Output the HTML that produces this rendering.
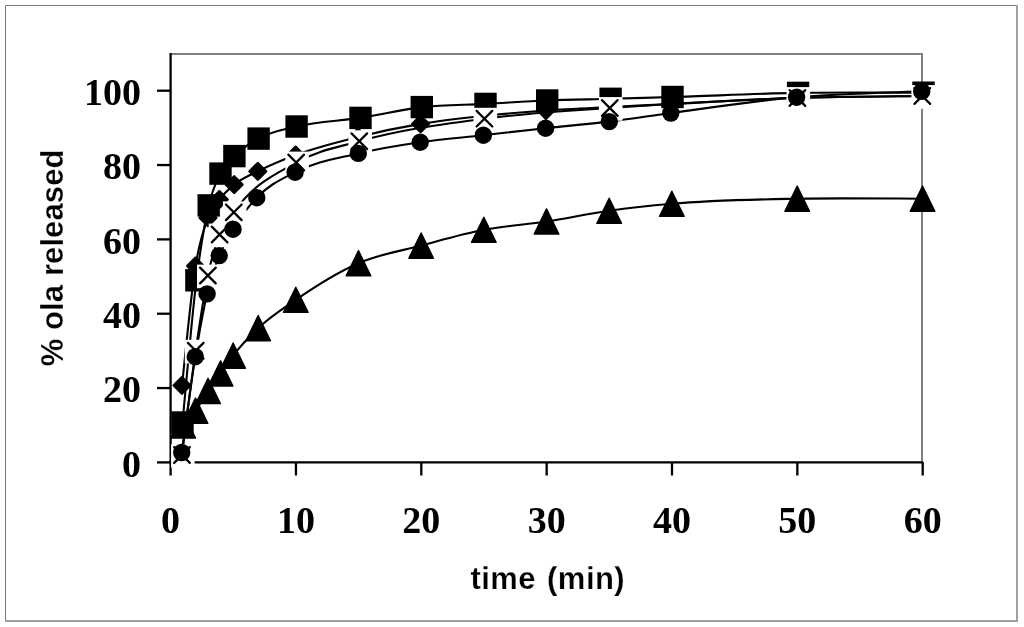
<!DOCTYPE html>
<html><head><meta charset="utf-8"><style>
html,body{margin:0;padding:0;background:#fff;}
svg{display:block;filter:grayscale(1);}
.tl{font-family:"Liberation Serif",serif;font-weight:bold;font-size:38px;fill:#000;}
.tt{font-family:"Liberation Sans",sans-serif;font-weight:bold;font-size:31px;fill:#000;letter-spacing:0.1px;stroke:#fff;stroke-width:0.25px;}
.tx{letter-spacing:0.45px;word-spacing:2px;}
</style></head><body>
<svg width="1024" height="627" viewBox="0 0 1024 627">
<rect x="0" y="0" width="1024" height="627" fill="#fff"/>
<path d="M5.5,621V5.5H1017" stroke="#7a7a7a" stroke-width="1" fill="none"/>
<path d="M1017,5V621H5" stroke="#a0a0a0" stroke-width="2" fill="none"/>
<path d="M170.6,54H922V462.4" stroke="#808080" stroke-width="2" fill="none"/>
<g stroke="#000" stroke-width="2.3" fill="none">
<path d="M170.6,53V462.4H923"/>
<line x1="157" y1="462.40" x2="171" y2="462.40"/>
<line x1="157" y1="388.06" x2="171" y2="388.06"/>
<line x1="157" y1="313.72" x2="171" y2="313.72"/>
<line x1="157" y1="239.38" x2="171" y2="239.38"/>
<line x1="157" y1="165.04" x2="171" y2="165.04"/>
<line x1="157" y1="90.70" x2="171" y2="90.70"/>
<line x1="170.60" y1="462" x2="170.60" y2="475.5"/>
<line x1="295.95" y1="462" x2="295.95" y2="475.5"/>
<line x1="421.30" y1="462" x2="421.30" y2="475.5"/>
<line x1="546.65" y1="462" x2="546.65" y2="475.5"/>
<line x1="672.00" y1="462" x2="672.00" y2="475.5"/>
<line x1="797.35" y1="462" x2="797.35" y2="475.5"/>
<line x1="922.70" y1="462" x2="922.70" y2="475.5"/>
</g>
<g stroke="#000" stroke-width="2.1" fill="none" stroke-linejoin="round">
<path d="M182.50,422.50 C184.82,398.80 191.77,317.52 196.40,280.30 C200.50,247.36 204.60,223.26 208.70,205.40 C212.63,188.26 216.57,181.61 220.50,173.60 C225.13,164.17 229.77,161.03 234.40,156.10 C242.47,147.52 250.53,143.16 258.60,138.60 C271.27,131.43 283.93,129.66 296.60,126.50 C317.90,121.18 339.20,121.22 360.50,117.90 C380.93,114.72 401.37,109.44 421.80,107.10 C443.03,104.67 464.27,105.02 485.50,103.90 C506.07,102.82 526.63,101.35 547.20,100.50 C568.33,99.63 589.47,99.39 610.60,98.80 C631.23,98.22 651.87,97.62 672.50,97.00 C714.37,95.73 756.23,93.62 798.10,92.90 C839.90,92.18 902.60,92.73 923.50,92.70"/>
<path d="M182.00,385.40 C184.25,365.50 191.00,294.14 195.50,266.00 C199.67,239.94 203.83,228.96 208.00,217.80 C211.80,207.62 215.60,204.61 219.40,199.50 C224.33,192.87 229.27,188.72 234.20,184.60 C242.07,178.02 249.93,175.33 257.80,171.30 C270.40,164.84 283.00,159.76 295.60,155.00 C316.38,147.16 337.15,142.17 357.93,137.00 C378.82,131.80 399.71,127.40 420.60,123.90 C441.49,120.40 462.38,118.23 483.28,116.00 C504.17,113.77 525.06,112.00 545.95,110.50 C566.84,109.00 587.73,108.08 608.63,107.00 C629.52,105.92 650.41,105.01 671.30,104.00 C713.08,101.98 754.87,99.13 796.65,97.80 C838.43,96.47 901.11,96.30 922.00,96.00"/>
<path d="M182.00,455.00 C184.28,437.62 191.13,381.97 195.70,350.70 C199.77,322.86 203.83,295.05 207.90,275.50 C211.80,256.76 215.70,244.75 219.60,234.50 C224.33,222.06 229.07,219.03 233.80,212.30 C254.60,182.73 275.40,174.34 296.20,162.50 C317.23,150.53 338.27,147.19 359.30,141.20 C401.02,129.32 442.73,124.23 484.45,118.70 C526.23,113.16 568.02,111.03 609.80,108.00 C672.33,103.47 734.87,99.93 797.40,98.00 C839.03,96.71 901.48,96.33 922.30,96.00"/>
<path d="M181.70,452.50 C183.97,436.53 190.77,384.45 195.30,356.70 C199.23,332.62 203.17,310.64 207.10,293.90 C211.13,276.73 215.17,266.01 219.20,255.60 C223.80,243.73 228.40,237.00 233.00,229.20 C240.93,215.74 248.87,206.20 256.80,197.70 C269.57,184.02 282.33,178.93 295.10,172.20 C316.17,161.10 337.23,158.43 358.30,153.40 C378.93,148.48 399.57,145.22 420.20,142.20 C441.25,139.12 462.30,137.55 483.35,135.20 C504.10,132.88 524.85,130.44 545.60,128.20 C566.83,125.91 588.07,124.19 609.30,121.60 C629.80,119.10 650.30,115.77 670.80,113.00 C712.73,107.33 754.67,100.82 796.60,97.20 C838.30,93.60 900.85,92.28 921.70,91.30"/>
<path d="M183.20,425.50 C185.25,423.03 191.41,416.39 195.52,410.70 C199.70,404.91 203.88,397.20 208.06,391.00 C212.23,384.80 216.41,379.40 220.59,373.50 C224.77,367.60 228.95,361.11 233.13,355.60 C241.48,344.59 249.84,336.12 258.19,328.10 C270.73,316.08 283.26,308.44 295.80,299.80 C316.69,285.40 337.58,272.23 358.48,263.20 C379.37,254.17 400.26,251.17 421.15,245.60 C442.04,240.03 462.93,233.82 483.82,229.80 C504.72,225.78 525.61,224.67 546.50,221.50 C567.39,218.33 588.28,213.75 609.18,210.80 C630.07,207.85 650.96,205.64 671.85,203.80 C713.63,200.12 755.42,199.55 797.20,198.70 C838.98,197.85 901.66,198.70 922.55,198.70"/>
</g>
<g fill="#000" stroke="none">
<rect x="171.30" y="411.30" width="22.40" height="22.40"/>
<rect x="185.20" y="269.10" width="22.40" height="22.40"/>
<rect x="197.50" y="194.20" width="22.40" height="22.40"/>
<rect x="209.30" y="162.40" width="22.40" height="22.40"/>
<rect x="223.20" y="144.90" width="22.40" height="22.40"/>
<rect x="247.40" y="127.40" width="22.40" height="22.40"/>
<rect x="285.40" y="115.30" width="22.40" height="22.40"/>
<rect x="349.30" y="106.70" width="22.40" height="22.40"/>
<rect x="410.60" y="95.90" width="22.40" height="22.40"/>
<rect x="474.30" y="92.70" width="22.40" height="22.40"/>
<rect x="536.00" y="89.30" width="22.40" height="22.40"/>
<rect x="599.40" y="87.60" width="22.40" height="22.40"/>
<rect x="661.30" y="85.80" width="22.40" height="22.40"/>
<rect x="786.90" y="81.70" width="22.40" height="22.40"/>
<rect x="912.30" y="81.50" width="22.40" height="22.40"/>
<path d="M182.00,377.10L190.30,385.40L182.00,393.70L173.70,385.40Z" stroke="#000" stroke-width="2.4" stroke-linejoin="round"/>
<path d="M195.50,257.70L203.80,266.00L195.50,274.30L187.20,266.00Z" stroke="#000" stroke-width="2.4" stroke-linejoin="round"/>
<path d="M208.00,209.50L216.30,217.80L208.00,226.10L199.70,217.80Z" stroke="#000" stroke-width="2.4" stroke-linejoin="round"/>
<path d="M219.40,191.20L227.70,199.50L219.40,207.80L211.10,199.50Z" stroke="#000" stroke-width="2.4" stroke-linejoin="round"/>
<path d="M234.20,176.30L242.50,184.60L234.20,192.90L225.90,184.60Z" stroke="#000" stroke-width="2.4" stroke-linejoin="round"/>
<path d="M257.80,163.00L266.10,171.30L257.80,179.60L249.50,171.30Z" stroke="#000" stroke-width="2.4" stroke-linejoin="round"/>
<path d="M295.60,146.70L303.90,155.00L295.60,163.30L287.30,155.00Z" stroke="#000" stroke-width="2.4" stroke-linejoin="round"/>
<path d="M357.93,128.70L366.23,137.00L357.93,145.30L349.63,137.00Z" stroke="#000" stroke-width="2.4" stroke-linejoin="round"/>
<path d="M420.60,115.60L428.90,123.90L420.60,132.20L412.30,123.90Z" stroke="#000" stroke-width="2.4" stroke-linejoin="round"/>
<path d="M483.28,107.70L491.58,116.00L483.28,124.30L474.98,116.00Z" stroke="#000" stroke-width="2.4" stroke-linejoin="round"/>
<path d="M545.95,102.20L554.25,110.50L545.95,118.80L537.65,110.50Z" stroke="#000" stroke-width="2.4" stroke-linejoin="round"/>
<path d="M608.63,98.70L616.93,107.00L608.63,115.30L600.33,107.00Z" stroke="#000" stroke-width="2.4" stroke-linejoin="round"/>
<path d="M671.30,95.70L679.60,104.00L671.30,112.30L663.00,104.00Z" stroke="#000" stroke-width="2.4" stroke-linejoin="round"/>
<path d="M796.65,89.50L804.95,97.80L796.65,106.10L788.35,97.80Z" stroke="#000" stroke-width="2.4" stroke-linejoin="round"/>
<path d="M922.00,87.70L930.30,96.00L922.00,104.30L913.70,96.00Z" stroke="#000" stroke-width="2.4" stroke-linejoin="round"/>
<rect x="171.10" y="444.10" width="23.60" height="23.60" fill="#fff"/>
<path d="M174.15,447.15L189.85,462.85M174.15,462.85L189.85,447.15" stroke="#000" stroke-width="2.2" stroke-linecap="round" fill="none"/>
<rect x="184.80" y="339.80" width="23.60" height="23.60" fill="#fff"/>
<path d="M187.85,342.85L203.55,358.55M187.85,358.55L203.55,342.85" stroke="#000" stroke-width="2.2" stroke-linecap="round" fill="none"/>
<rect x="197.00" y="264.60" width="23.60" height="23.60" fill="#fff"/>
<path d="M200.05,267.65L215.75,283.35M200.05,283.35L215.75,267.65" stroke="#000" stroke-width="2.2" stroke-linecap="round" fill="none"/>
<rect x="208.70" y="223.60" width="23.60" height="23.60" fill="#fff"/>
<path d="M211.75,226.65L227.45,242.35M211.75,242.35L227.45,226.65" stroke="#000" stroke-width="2.2" stroke-linecap="round" fill="none"/>
<rect x="222.90" y="201.40" width="23.60" height="23.60" fill="#fff"/>
<path d="M225.95,204.45L241.65,220.15M225.95,220.15L241.65,204.45" stroke="#000" stroke-width="2.2" stroke-linecap="round" fill="none"/>
<rect x="285.30" y="151.60" width="23.60" height="23.60" fill="#fff"/>
<path d="M288.35,154.65L304.05,170.35M288.35,170.35L304.05,154.65" stroke="#000" stroke-width="2.2" stroke-linecap="round" fill="none"/>
<rect x="348.40" y="130.30" width="23.60" height="23.60" fill="#fff"/>
<path d="M351.45,133.35L367.15,149.05M351.45,149.05L367.15,133.35" stroke="#000" stroke-width="2.2" stroke-linecap="round" fill="none"/>
<rect x="473.55" y="107.80" width="23.60" height="23.60" fill="#fff"/>
<path d="M476.60,110.85L492.30,126.55M476.60,126.55L492.30,110.85" stroke="#000" stroke-width="2.2" stroke-linecap="round" fill="none"/>
<rect x="598.90" y="97.10" width="23.60" height="23.60" fill="#fff"/>
<path d="M601.95,100.15L617.65,115.85M601.95,115.85L617.65,100.15" stroke="#000" stroke-width="2.2" stroke-linecap="round" fill="none"/>
<rect x="786.50" y="87.10" width="23.60" height="23.60" fill="#fff"/>
<path d="M789.55,90.15L805.25,105.85M789.55,105.85L805.25,90.15" stroke="#000" stroke-width="2.2" stroke-linecap="round" fill="none"/>
<rect x="911.40" y="85.10" width="23.60" height="23.60" fill="#fff"/>
<path d="M914.45,88.15L930.15,103.85M914.45,103.85L930.15,88.15" stroke="#000" stroke-width="2.2" stroke-linecap="round" fill="none"/>
<circle cx="181.70" cy="452.50" r="8.70"/>
<circle cx="195.30" cy="356.70" r="8.70"/>
<circle cx="207.10" cy="293.90" r="8.70"/>
<circle cx="219.20" cy="255.60" r="8.70"/>
<circle cx="233.00" cy="229.20" r="8.70"/>
<circle cx="256.80" cy="197.70" r="8.70"/>
<circle cx="295.10" cy="172.20" r="8.70"/>
<circle cx="358.30" cy="153.40" r="8.70"/>
<circle cx="420.20" cy="142.20" r="8.70"/>
<circle cx="483.35" cy="135.20" r="8.70"/>
<circle cx="545.60" cy="128.20" r="8.70"/>
<circle cx="609.30" cy="121.60" r="8.70"/>
<circle cx="670.80" cy="113.00" r="8.70"/>
<circle cx="796.60" cy="97.20" r="8.70"/>
<circle cx="921.70" cy="91.30" r="8.70"/>
<path d="M183.20,412.90L195.50,438.10L170.90,438.10Z" stroke="#000" stroke-width="1.4" stroke-linejoin="round"/>
<path d="M195.52,398.10L207.82,423.30L183.22,423.30Z" stroke="#000" stroke-width="1.4" stroke-linejoin="round"/>
<path d="M208.06,378.40L220.36,403.60L195.76,403.60Z" stroke="#000" stroke-width="1.4" stroke-linejoin="round"/>
<path d="M220.59,360.90L232.89,386.10L208.29,386.10Z" stroke="#000" stroke-width="1.4" stroke-linejoin="round"/>
<path d="M233.13,343.00L245.43,368.20L220.83,368.20Z" stroke="#000" stroke-width="1.4" stroke-linejoin="round"/>
<path d="M258.19,315.50L270.50,340.70L245.89,340.70Z" stroke="#000" stroke-width="1.4" stroke-linejoin="round"/>
<path d="M295.80,287.20L308.10,312.40L283.50,312.40Z" stroke="#000" stroke-width="1.4" stroke-linejoin="round"/>
<path d="M358.48,250.60L370.78,275.80L346.18,275.80Z" stroke="#000" stroke-width="1.4" stroke-linejoin="round"/>
<path d="M421.15,233.00L433.45,258.20L408.85,258.20Z" stroke="#000" stroke-width="1.4" stroke-linejoin="round"/>
<path d="M483.82,217.20L496.12,242.40L471.52,242.40Z" stroke="#000" stroke-width="1.4" stroke-linejoin="round"/>
<path d="M546.50,208.90L558.80,234.10L534.20,234.10Z" stroke="#000" stroke-width="1.4" stroke-linejoin="round"/>
<path d="M609.18,198.20L621.48,223.40L596.88,223.40Z" stroke="#000" stroke-width="1.4" stroke-linejoin="round"/>
<path d="M671.85,191.20L684.15,216.40L659.55,216.40Z" stroke="#000" stroke-width="1.4" stroke-linejoin="round"/>
<path d="M797.20,186.10L809.50,211.30L784.90,211.30Z" stroke="#000" stroke-width="1.4" stroke-linejoin="round"/>
<path d="M922.55,186.10L934.85,211.30L910.25,211.30Z" stroke="#000" stroke-width="1.4" stroke-linejoin="round"/>
</g>
<g class="tl" text-anchor="end">
<text x="141" y="476.80">0</text>
<text x="141" y="402.46">20</text>
<text x="141" y="328.12">40</text>
<text x="141" y="253.78">60</text>
<text x="141" y="179.44">80</text>
<text x="141" y="105.10">100</text>
</g>
<g class="tl">
<text x="170.60" y="533.4" text-anchor="middle">0</text>
<text x="295.95" y="533.4" text-anchor="middle">10</text>
<text x="421.30" y="533.4" text-anchor="middle">20</text>
<text x="546.65" y="533.4" text-anchor="middle">30</text>
<text x="672.00" y="533.4" text-anchor="middle">40</text>
<text x="797.35" y="533.4" text-anchor="middle">50</text>
<text x="922.70" y="533.4" text-anchor="middle">60</text>
</g>
<text class="tt tx" x="547.8" y="589" text-anchor="middle">time (min)</text>
<text class="tt" x="63" y="257.9" text-anchor="middle" transform="rotate(-90 63 257.9)">% ola released</text>
</svg>
</body></html>
